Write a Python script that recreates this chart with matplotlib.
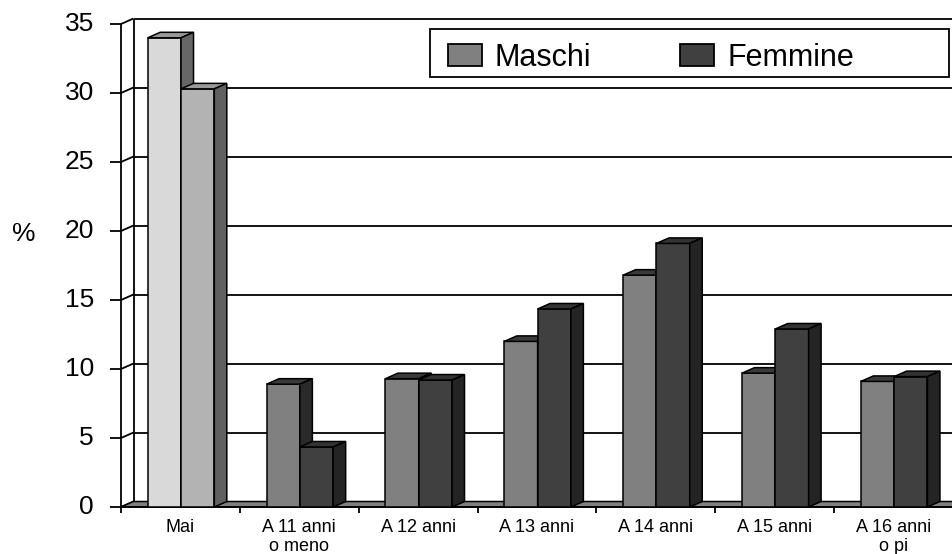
import matplotlib
matplotlib.use("Agg")
import matplotlib.pyplot as plt
from matplotlib.patches import Polygon, Rectangle

plt.rcParams['font.family'] = ['Liberation Sans', 'DejaVu Sans']

categories = ["Mai", "A 11 anni\no meno", "A 12 anni", "A 13 anni", "A 14 anni", "A 15 anni", "A 16 anni\no pi"]
maschi = [34.0, 8.9, 9.3, 12.0, 16.8, 9.7, 9.1]
femmine = [30.3, 4.35, 9.2, 14.35, 19.1, 12.9, 9.45]
series_names = ["Maschi", "Femmine"]
yticks = [0, 5, 10, 15, 20, 25, 30, 35]

W, H = 952, 554
fig = plt.figure(figsize=(W / 100, H / 100), dpi=100)
# axes: x 0..7 -> px 121..953 ; y 0..35 -> px 507..24
left_px, right_px, zero_px, top_px = 121, 953, 507, 24
ax = fig.add_axes([left_px / W, (H - zero_px) / H, (right_px - left_px) / W, (zero_px - top_px) / H])
ncat = len(categories)
ymax = 35
ax.set_xlim(0, ncat)
ax.set_ylim(0, ymax)
ax.axis('off')

pxx = (right_px - left_px) / ncat
pxy = (zero_px - top_px) / ymax
dx = 12.5 / pxx
dy = 5.5 / pxy

lw = 1.1
def poly(pts, fc, z=3):
    ax.add_patch(Polygon(pts, closed=True, facecolor=fc, edgecolor='black', lw=lw, zorder=z, clip_on=False, joinstyle='miter'))

def line(xs, ys, z=2, lwid=1.3):
    ax.plot(xs, ys, color='black', lw=lwid, zorder=z, clip_on=False, solid_capstyle='butt')

# back wall
line([dx, dx], [dy, ymax + dy])
line([dx, ncat + 0.2], [ymax + dy, ymax + dy])
for v in yticks[1:-1]:
    line([dx, ncat + 0.2], [v + dy, v + dy], z=1)
# left wall diagonals and front axis
line([0, 0], [0, ymax])
for v in yticks:
    line([0, dx], [v, v + dy])
    line([-11 / pxx, 0], [v, v])
    ax.text(-27 / pxx, v, str(v), ha='right', va='center', fontsize=19, clip_on=False)
ax.text(-97 / pxx, 19.8, "%", ha='center', va='center', fontsize=19)

# floor
poly([(0, 0), (ncat + 0.2, 0), (ncat + 0.2 + dx, dy), (dx, dy)], '#808080', z=2)
line([0, ncat + 0.2], [0, 0], z=2)
for i in range(ncat):
    line([i, i], [0, -6 / pxy], z=2)

# bars
bw = 0.28
start = 0.225
def bar3d(x0, h, front, top, side):
    poly([(x0, 0), (x0 + bw, 0), (x0 + bw, h), (x0, h)], front, z=4)
    poly([(x0, h), (x0 + bw, h), (x0 + bw + dx, h + dy), (x0 + dx, h + dy)], top, z=4)
    poly([(x0 + bw, 0), (x0 + bw + dx, dy), (x0 + bw + dx, h + dy), (x0 + bw, h)], side, z=4)

for i in range(ncat):
    if i == 0:
        c1 = ('#d9d9d9', '#999999', '#666666')
        c2 = ('#b3b3b3', '#999999', '#606060')
    else:
        c1 = ('#808080', '#3a3a3a', '#2a2a2a')
        c2 = ('#404040', '#333333', '#242424')
    bar3d(i + start, maschi[i], *c1)
    bar3d(i + start + bw, femmine[i], *c2)

for i, lab in enumerate(categories):
    ax.text(i + 0.5, -11.5 / pxy, lab, ha='center', va='top', fontsize=13, linespacing=1.22, clip_on=False)

# legend (manual)
def fx(p): return p / W
def fy(p): return 1 - p / H
fig.patches.append(Rectangle((fx(430), fy(77)), fx(949) - fx(430), fy(29) - fy(77), transform=fig.transFigure,
                             facecolor='white', edgecolor='black', lw=1.3, zorder=10))
leg_cols = [('#808080', 448, 496), ('#404040', 680, 730)]
for (col, x0, xt), name in zip(leg_cols, series_names):
    fig.patches.append(Rectangle((fx(x0), fy(66)), fx(34), 22 / H, transform=fig.transFigure,
                                 facecolor=col, edgecolor='black', lw=1.3, zorder=11))
    fig.text(fx(xt - 2), fy(66), name, ha='left', va='baseline', fontsize=22, zorder=12)

fig.savefig("out.png", dpi=100)
